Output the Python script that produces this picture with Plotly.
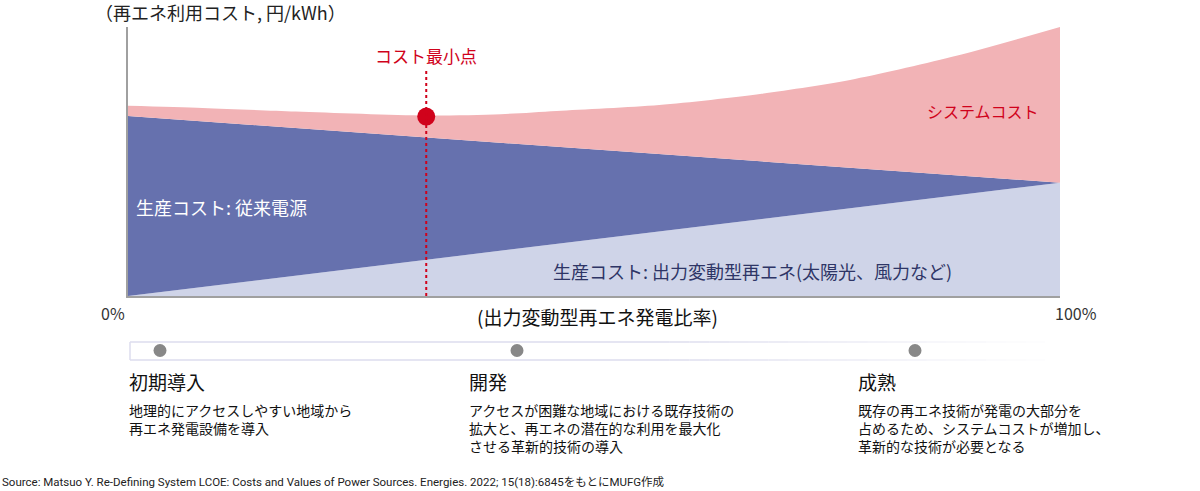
import plotly.graph_objects as go

# share of variable renewables (%)
share = [0, 100]
# production cost, variable renewables (stacked bottom)
vre_cost = [0, 42.1]
# production cost, conventional (top of blue band)
conv_top = [66.9, 42.1]
# total incl. system cost (top of pink band)
share_sys = [0, 8, 18, 32, 40, 46, 57, 68, 78, 89, 100]
total_top = [70.7, 69.9, 68.6, 67.1, 67.6, 68.8, 71.0, 75.2, 80.7, 89.4, 100.0]

min_x = 32
min_y = 66.7

stages = ["初期導入", "開発", "成熟"]
stage_text = [
    "地理的にアクセスしやすい地域から<br>再エネ発電設備を導入",
    "アクセスが困難な地域における既存技術の<br>拡大と、再エネの潜在的な利用を最大化<br>させる革新的技術の導入",
    "既存の再エネ技術が発電の大部分を<br>占めるため、システムコストが増加し、<br>革新的な技術が必要となる",
]
stage_dot_px = [160, 517, 915]
stage_text_px = [127, 467, 856]

FONT = "Noto Sans CJK JP"
RED = "#d0021b"

L, R, T, B = 128, 140, 27, 195
W, H = 1200, 491
PW, PH = W - L - R, H - T - B


def px(x):
    return (x - L) / PW


def py(y):
    return (H - B - y) / PH


fig = go.Figure()
fig.add_trace(go.Scatter(x=share, y=vre_cost, mode="lines", line=dict(width=0),
                         fill="tozeroy", fillcolor="#cfd4e8", hoverinfo="skip"))
fig.add_trace(go.Scatter(x=share, y=conv_top, mode="lines", line=dict(width=0),
                         fill="tonexty", fillcolor="#6671ae", hoverinfo="skip"))
fig.add_trace(go.Scatter(x=share_sys, y=total_top, mode="lines",
                         line=dict(width=0, shape="spline", smoothing=0.8),
                         fill="tonexty", fillcolor="#f2b3b6", hoverinfo="skip"))

# cost minimum marker
fig.add_shape(type="line", x0=min_x, x1=min_x, y0=0, y1=84.5,
              line=dict(color=RED, width=2, dash="dot"))
fig.add_trace(go.Scatter(x=[min_x], y=[min_y], mode="markers",
                         marker=dict(size=18, color=RED), hoverinfo="skip"))

ann = []


def text(x, y, s, size, color="#222", xanchor="left", yanchor="middle"):
    ann.append(dict(x=px(x), y=py(y), xref="paper", yref="paper", text=s,
                    showarrow=False, xanchor=xanchor, yanchor=yanchor, align="left",
                    font=dict(family=FONT, size=size, color=color)))


text(93, 12, "（再エネ利用コスト, 円/kWh）", 18)
text(426, 55, "コスト最小点", 17, RED, xanchor="center")
text(925, 111, "システムコスト", 16, RED)
text(134, 207, "生産コスト: 従来電源", 18, "white")
text(551, 271, "生産コスト: 出力変動型再エネ(太陽光、風力など)", 18, "#2e3566")
text(113, 313, "0%", 16, "#333", xanchor="center")
text(1076, 313, "100%", 16, "#333", xanchor="center")
text(597, 316, "(出力変動型再エネ発電比率)", 19, "#111", xanchor="center")

for i in range(len(stages)):
    text(stage_text_px[i], 381, stages[i], 19, "#111")
    ann.append(dict(x=px(stage_text_px[i]), y=py(398), xref="paper", yref="paper",
                    text=stage_text[i], showarrow=False, xanchor="left", yanchor="top",
                    align="left", font=dict(family=FONT, size=14, color="#111")))

ann.append(dict(x=px(0), y=py(482), xref="paper", yref="paper",
                text="Source: Matsuo Y. Re-Defining System LCOE: Costs and Values of Power Sources. Energies. 2022; 15(18):6845をもとにMUFG作成",
                showarrow=False, xanchor="left", yanchor="middle",
                font=dict(family="Roboto, " + FONT, size=11.5, color="#222")))

# stage timeline bar, border fading out to the right
shapes = []
bar_top, bar_bot = py(342), py(360)
shapes.append(dict(type="line", xref="paper", yref="paper", x0=px(130), x1=px(130),
                   y0=bar_top, y1=bar_bot, line=dict(color="#dcdcee", width=1.5)))
n = 20
x_start, x_fade, x_end = 130, 650, 1045
for yy in (bar_top, bar_bot):
    shapes.append(dict(type="line", xref="paper", yref="paper", x0=px(x_start), x1=px(x_fade),
                       y0=yy, y1=yy, line=dict(color="#dcdcee", width=1.5)))
    for k in range(n):
        a = x_fade + (x_end - x_fade) * k / n
        b = x_fade + (x_end - x_fade) * (k + 1) / n
        shapes.append(dict(type="line", xref="paper", yref="paper", x0=px(a), x1=px(b),
                           y0=yy, y1=yy, opacity=1 - k / n,
                           line=dict(color="#dcdcee", width=1.5)))
for d in stage_dot_px:
    shapes.append(dict(type="circle", xref="paper", yref="paper",
                       x0=px(d - 6.5), x1=px(d + 6.5), y0=py(357), y1=py(344),
                       fillcolor="#888888", line=dict(width=0)))
for s in shapes:
    fig.add_shape(**s)

fig.update_layout(
    width=W, height=H,
    margin=dict(l=L, r=R, t=T, b=B),
    plot_bgcolor="white", paper_bgcolor="white",
    showlegend=False,
    annotations=ann,
    xaxis=dict(range=[0, 100], showgrid=False, zeroline=False, showticklabels=False,
               showline=True, linecolor="#a0a0a0", linewidth=2, ticks=""),
    yaxis=dict(range=[0, 100], showgrid=False, zeroline=False, showticklabels=False,
               showline=True, linecolor="#a0a0a0", linewidth=2, ticks=""),
)

fig.write_html("out.html", config={"displayModeBar": False},
               post_script="document.body.style.margin='0';")
